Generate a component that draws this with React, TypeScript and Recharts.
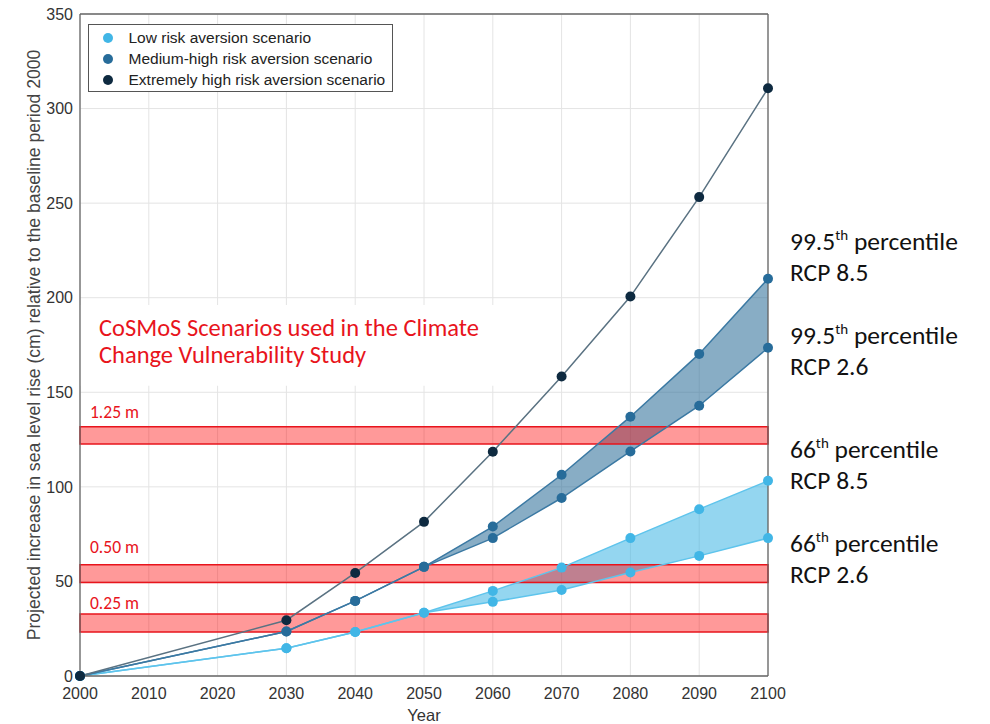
import React from 'react';
import {
  ComposedChart,
  Area,
  Line,
  XAxis,
  YAxis,
  CartesianGrid,
  ReferenceArea,
  ReferenceLine,
  Legend,
  Label,
} from 'recharts';

// ---------- data ----------
const years = [2000, 2030, 2040, 2050, 2060, 2070, 2080, 2090, 2100];
const lowRcp85 = [0, 14.7, 23.3, 33.4, 45, 57.3, 72.9, 88.2, 103.2];
const lowRcp26 = [0, 14.7, 23.3, 33.4, 39.2, 45.5, 54.7, 63.5, 72.9];
const medRcp85 = [0, 23.5, 39.7, 57.7, 79, 106.4, 137.1, 170.3, 210];
const medRcp26 = [0, 23.5, 39.7, 57.7, 72.9, 94.1, 118.7, 142.9, 173.5];
const extremeHigh = [0, 29.5, 54.5, 81.5, 118.6, 158.3, 200.6, 253.2, 310.7];

const xTicks = [2000, 2010, 2020, 2030, 2040, 2050, 2060, 2070, 2080, 2090, 2100];
const yTicks = [0, 50, 100, 150, 200, 250, 300, 350];

const thresholdNames = ['1.25 m', '0.50 m', '0.25 m'];
const thresholdLow = [122.7, 49.4, 23.3];
const thresholdHigh = [131.8, 58.8, 32.8];

const legendNames = [
  'Low risk aversion scenario',
  'Medium-high risk aversion scenario',
  'Extremely high risk aversion scenario',
];

const noteLines = ['CoSMoS Scenarios used in the Climate', 'Change Vulnerability Study'];

const percentileNames = ['99.5', '99.5', '66', '66'];
const rcpNames = ['RCP 8.5', 'RCP 2.6', 'RCP 8.5', 'RCP 2.6'];

// ---------- styles ----------
const AXIS_FONT = '"Liberation Sans", Arial, Helvetica, sans-serif';
const NOTE_FONT = 'Carlito, Calibri, Lato, "Open Sans", sans-serif';
const RED = '#e8141c';
const LOW_DOT = '#41b6e6';
const LOW_LINE = '#5ec4ec';
const LOW_FILL = '#3cb4e4';
const MED_DOT = '#276c9a';
const MED_LINE = '#3b79a3';
const MED_FILL = '#2b6c97';
const EXT_DOT = '#0e2a40';
const EXT_LINE = '#5a7282';
const legendColors = [LOW_DOT, MED_DOT, EXT_DOT];

const data = years.map((year, i) => ({
  year,
  lowBand: [lowRcp26[i], lowRcp85[i]],
  medBand: [medRcp26[i], medRcp85[i]],
  lowHi: lowRcp85[i],
  lowLo: lowRcp26[i],
  medHi: medRcp85[i],
  medLo: medRcp26[i],
  extreme: extremeHigh[i],
}));

const labelGaps = [9, 12, 5];

const renderLegend = () => (
  <div
    style={{
      border: '1.5px solid #555',
      background: '#fff',
      padding: '2px 10px 1px 13.5px',
      fontFamily: AXIS_FONT,
      fontSize: 15.5,
      color: '#222',
      width: 305,
      boxSizing: 'border-box',
    }}
  >
    {legendNames.map((n, i) => (
      <div key={n} style={{ display: 'flex', alignItems: 'center', height: 21, whiteSpace: 'nowrap' }}>
        <span
          style={{
            display: 'inline-block',
            width: 10,
            height: 10,
            borderRadius: 5,
            background: legendColors[i],
            marginRight: 16,
            flex: '0 0 auto',
          }}
        />
        {n}
      </div>
    ))}
  </div>
);

const dotStyle = (c: string) => ({ r: 5, fill: c, stroke: c, strokeWidth: 0 });

export default function App() {
  return (
    <div style={{ position: 'absolute', left: 0, top: 0, width: 990, height: 724, background: '#fff', overflow: 'hidden' }}>
      <ComposedChart width={990} height={724} data={data} margin={{ top: 14, right: 222, bottom: 0, left: 0 }}>
        <CartesianGrid stroke="#e4e4e4" strokeWidth={1} />
        <XAxis
          dataKey="year"
          type="number"
          domain={[2000, 2100]}
          ticks={xTicks}
          height={48}
          stroke="#666"
          strokeWidth={1.3}
          tickLine={false}
          tickSize={5}
          tickMargin={7}
          tick={{ fill: '#333', fontSize: 16, fontFamily: AXIS_FONT }}
          interval={0}
        >
          <Label value="Year" position="insideBottom" offset={3} style={{ fill: '#333', fontSize: 16.5, fontFamily: AXIS_FONT }} />
        </XAxis>
        <YAxis
          type="number"
          domain={[0, 350]}
          ticks={yTicks}
          width={80}
          stroke="#666"
          strokeWidth={1.3}
          tickLine={false}
          tickSize={5}
          tickMargin={2}
          tick={{ fill: '#333', fontSize: 16, fontFamily: AXIS_FONT }}
          interval={0}
        >
          <Label
            value="Projected increase in sea level rise (cm) relative to the baseline period 2000"
            angle={-90}
            position="insideLeft"
            offset={34}
            style={{ textAnchor: 'middle', fill: '#444', fontSize: 17.6, fontFamily: AXIS_FONT }}
          />
        </YAxis>

        <ReferenceLine y={350} stroke="#666" strokeWidth={1.3} />
        <ReferenceLine x={2100} stroke="#666" strokeWidth={1.3} />

        <ReferenceArea x1={2000} x2={2061.5} y1={153.4} y2={196.2} fill="#fff" fillOpacity={1} stroke="none">
          <Label
            content={(p: any) => {
              const vb = p.viewBox || {};
              return (
                <text fill={RED} fontFamily={NOTE_FONT} fontSize={24.5}>
                  {noteLines.map((t, i) => (
                    <tspan key={t} x={vb.x + 19} y={vb.y + 31 + i * 27.5}>
                      {t}
                    </tspan>
                  ))}
                </text>
              );
            }}
          />
        </ReferenceArea>

        <Area dataKey="lowBand" type="linear" fill={LOW_FILL} fillOpacity={0.55} stroke="none" isAnimationActive={false} />
        <Area dataKey="medBand" type="linear" fill={MED_FILL} fillOpacity={0.56} stroke="none" isAnimationActive={false} />

        <Line dataKey="lowLo" type="linear" stroke={LOW_LINE} strokeWidth={1.5} dot={dotStyle(LOW_DOT)} isAnimationActive={false} />
        <Line dataKey="lowHi" type="linear" stroke={LOW_LINE} strokeWidth={1.5} dot={dotStyle(LOW_DOT)} isAnimationActive={false} />
        <Line dataKey="medLo" type="linear" stroke={MED_LINE} strokeWidth={1.5} dot={dotStyle(MED_DOT)} isAnimationActive={false} />
        <Line dataKey="medHi" type="linear" stroke={MED_LINE} strokeWidth={1.5} dot={dotStyle(MED_DOT)} isAnimationActive={false} />
        <Line dataKey="extreme" type="linear" stroke={EXT_LINE} strokeWidth={1.5} dot={dotStyle(EXT_DOT)} isAnimationActive={false} />

        {thresholdNames.map((name, i) => (
          <ReferenceArea
            key={name}
            x1={2000}
            x2={2100}
            y1={thresholdLow[i]}
            y2={thresholdHigh[i]}
            fill="#ff0000"
            fillOpacity={0.4}
            stroke={RED}
            strokeWidth={1.5}
          >
            <Label
              content={(p: any) => {
                const vb = p.viewBox || {};
                return (
                  <text x={vb.x + 10} y={vb.y - labelGaps[i]} fill={RED} fontFamily={NOTE_FONT} fontSize={17.5}>
                    {name}
                  </text>
                );
              }}
            />
          </ReferenceArea>
        ))}

        <Legend
          layout="vertical"
          align="center"
          verticalAlign="middle"
          wrapperStyle={{ left: 88, top: 24, width: 305, height: 'auto' }}
          content={renderLegend}
        />
      </ComposedChart>

      <svg width={990} height={724} style={{ position: 'absolute', left: 0, top: 0, pointerEvents: 'none' }}>
        {percentileNames.map((p, i) => {
          const base = [250, 344, 458, 552][i];
          return (
            <g key={i} fontFamily={NOTE_FONT} fontSize={25.5} fill="#111">
              <text x={790} y={base}>
                {p}
                <tspan dy={-10} fontSize={15}>th</tspan>
                <tspan dy={10}> percentile</tspan>
              </text>
              <text x={790} y={base + 31}>
                {rcpNames[i]}
              </text>
            </g>
          );
        })}
      </svg>
    </div>
  );
}
